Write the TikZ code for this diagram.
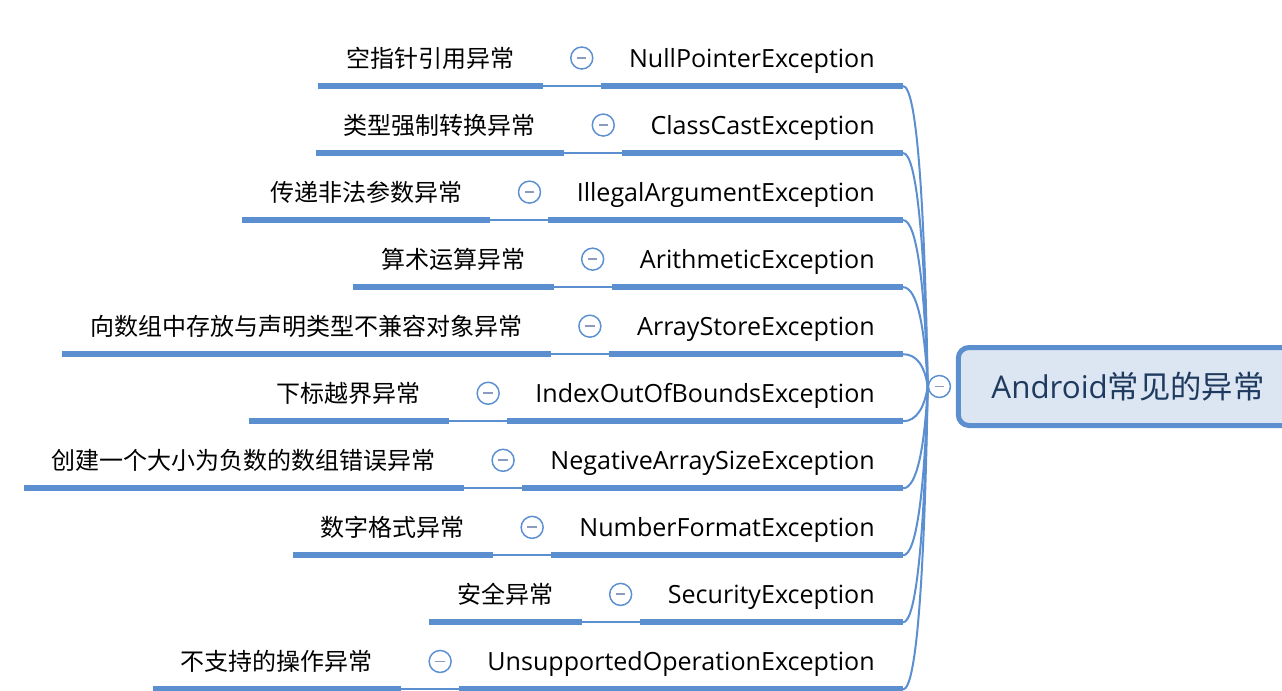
\documentclass[tikz,border=0pt]{standalone}
\usepackage{fontspec}
\setmainfont{Open Sans}
\newfontfamily\cjk{Noto Sans CJK SC}
\usetikzlibrary{positioning,calc}
\definecolor{mapblue}{HTML}{5B8FD0}
\definecolor{rootfill}{HTML}{DCE6F2}
\definecolor{rootink}{HTML}{1F3A5F}
\definecolor{foldbar}{HTML}{8A9BBF}
\tikzset{>=stealth,
  leaf/.style={inner xsep=21pt, inner ysep=0pt, text height=13pt, text depth=14pt,
    font=\fontsize{18.8pt}{20pt}\selectfont},
  cnleaf/.style={leaf, font=\cjk\fontsize{18pt}{20pt}\selectfont},
  fold/.style={circle, draw=mapblue, line width=1.1pt, fill=white, minimum size=16.5pt, inner sep=0pt,
    path picture={\draw[foldbar, line width=1.4pt]
      ([xshift=-3.5pt]path picture bounding box.center) -- ([xshift=3.5pt]path picture bounding box.center);}},
  bar/.style={mapblue, line width=4.5pt},
  link/.style={mapblue, line width=1.5pt}
}

\begin{document}
\begin{tikzpicture}[x=0.75pt, y=-0.75pt]
    \useasboundingbox (0,0) rectangle (1282,690);
    \node[draw=mapblue, line width=3.75pt, fill=rootfill, rounded corners=8pt,
      minimum width=254.5pt, minimum height=58.5pt, text=rootink,
      font=\fontsize{23.5pt}{26pt}\selectfont] (root) at (1128,386.5) {Android{\cjk 常见的异常}};
    \node[fold, left=3.5pt of root] (fold0) {};
    \foreach \i/\cn/\ex in {1/空指针引用异常/NullPointerException,
      2/类型强制转换异常/ClassCastException,
      3/传递非法参数异常/IllegalArgumentException,
      4/算术运算异常/ArithmeticException,
      5/向数组中存放与声明类型不兼容对象异常/ArrayStoreException,
      6/下标越界异常/IndexOutOfBoundsException,
      7/创建一个大小为负数的数组错误异常/NegativeArraySizeException,
      8/数字格式异常/NumberFormatException,
      9/安全异常/SecurityException,
      10/不支持的操作异常/UnsupportedOperationException}{
      \pgfmathsetmacro\rowy{86+67.05*(\i-1)}
      \pgfmathsetmacro\dy{\rowy-388}
      \node[leaf, anchor=south east] (ex\i) at (903,\rowy) {\ex};
      \node[cnleaf, left=43.5pt of ex\i] (cn\i) {\cn};
      \node[fold] (fold\i) at ($(ex\i.south west)+(-19,-28)$) {};
      \draw[bar] (cn\i.south west) -- (cn\i.south east);
      \draw[bar] (ex\i.south west) -- (ex\i.south east);
      \draw[link] (cn\i.south east) -- (ex\i.south west);
      \draw[link] (ex\i.south east) .. controls +(14,0) and +(-3,{0.6*\dy}) .. (fold0.west);
    }
\end{tikzpicture}
\end{document}
